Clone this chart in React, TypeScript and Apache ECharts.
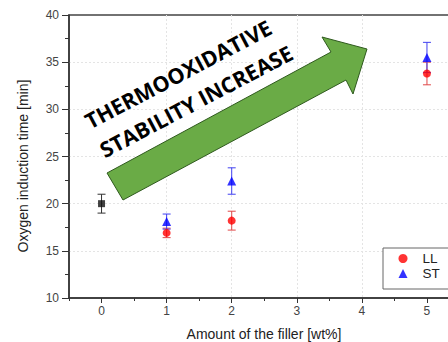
import React, { useEffect, useRef } from "react";
import * as echarts from "echarts";

// Amount of filler [wt%]
const neatX = [0];
const neatMean = [20.0];
const neatErr = [1.0];

const llX = [1, 2, 5];
const llMean = [16.9, 18.2, 33.8];
const llErr = [0.5, 1.0, 1.2];

const stX = [1, 2, 5];
const stMean = [18.1, 22.4, 35.5];
const stErr = [0.8, 1.4, 1.6];

const xTicks = [0, 1, 2, 3, 4, 5];

const FONT = "'Liberation Sans', Arial, sans-serif";

function errData(xs: number[], means: number[], errs: number[]) {
  return xs.map((x, i) => [x, means[i] - errs[i], means[i] + errs[i]]);
}
function ptData(xs: number[], means: number[]) {
  return xs.map((x, i) => [x, means[i]]);
}

function errSeries(data: number[][], color: string) {
  return {
    type: "custom",
    silent: true,
    data,
    encode: { x: 0, y: [1, 2] },
    z: 3,
    renderItem: (params: any, api: any) => {
      const x = api.value(0);
      const lo = api.value(1);
      const hi = api.value(2);
      const t = api.coord([x, hi]);
      const b = api.coord([x, lo]);
      const w = 4;
      const style = { stroke: color, lineWidth: 1 };
      return {
        type: "group",
        children: [
          { type: "line", shape: { x1: t[0], y1: t[1], x2: b[0], y2: b[1] }, style },
          { type: "line", shape: { x1: t[0] - w, y1: t[1], x2: t[0] + w, y2: t[1] }, style },
          { type: "line", shape: { x1: b[0] - w, y1: b[1], x2: b[0] + w, y2: b[1] }, style },
        ],
      };
    },
  };
}

export default function App() {
  const ref = useRef<HTMLDivElement>(null);
  useEffect(() => {
    if (!ref.current) return;
    const chart = echarts.init(ref.current, undefined, { renderer: "svg" });
    const split = {
      show: true,
      showMinLine: false,
      showMaxLine: false,
      lineStyle: { color: "#e4e4e4", type: [2, 2], width: 1 },
    };
    const option: any = {
      animation: false,
      backgroundColor: "#fff",
      grid: {
        left: 69,
        top: 15,
        bottom: 44,
        right: 10.5,
        show: true,
        borderColor: "#444",
        borderWidth: 1.5,
      },
      legend: {
        data: ["LL", "ST"],
        orient: "vertical",
        left: 383,
        top: 248,
        padding: [3, 10, 8, 15.5],
        itemWidth: 9,
        itemHeight: 9,
        itemGap: 0,
        borderColor: "#666",
        borderWidth: 1,
        backgroundColor: "#fff",
        textStyle: {
          fontFamily: FONT,
          fontSize: 13.5,
          color: "#222",
          lineHeight: 15,
          padding: [0, 0, 0, 10],
        },
      },
      xAxis: [
        {
          type: "value",
          min: -0.5,
          max: 5.5,
          axisLine: { show: true, onZero: false, lineStyle: { color: "#333", width: 1.5 } },
          axisTick: { show: true, inside: false, length: 5, customValues: xTicks, lineStyle: { color: "#333" } },
          axisLabel: {
            customValues: xTicks,
            margin: 7,
            fontFamily: FONT,
            fontSize: 12,
            color: "#444",
          },
          splitLine: split,
        },
        {
          type: "value",
          min: -0.5,
          max: 5.5,
          interval: 1,
          position: "bottom",
          axisLine: { show: false },
          axisTick: { show: true, length: 3, lineStyle: { color: "#333" } },
          axisLabel: { show: false },
          splitLine: { show: false },
        },
      ],
      yAxis: {
        type: "value",
        min: 10,
        max: 40,
        interval: 5,
        axisLine: { show: true, onZero: false, lineStyle: { color: "#333", width: 1.5 } },
        axisTick: { show: true, length: 7, lineStyle: { color: "#333" } },
        minorTick: { show: true, splitNumber: 2, length: 4, lineStyle: { color: "#333" } },
        axisLabel: { margin: 10, fontFamily: FONT, fontSize: 12, color: "#444" },
        splitLine: split,
      },
      series: [
        errSeries(errData(neatX, neatMean, neatErr), "#333"),
        errSeries(errData(llX, llMean, llErr), "#e04848"),
        errSeries(errData(stX, stMean, stErr), "#4040f0"),
        {
          name: "neat",
          type: "scatter",
          symbol: "rect",
          symbolSize: 7,
          itemStyle: { color: "#111" },
          data: ptData(neatX, neatMean),
          z: 4,
        },
        {
          name: "LL",
          type: "scatter",
          symbol: "circle",
          symbolSize: 8,
          itemStyle: { color: "#ff0000" },
          data: ptData(llX, llMean),
          z: 4,
        },
        {
          name: "ST",
          type: "scatter",
          symbol: "triangle",
          symbolSize: 9,
          itemStyle: { color: "#0000ff" },
          data: ptData(stX, stMean),
          z: 4,
        },
      ],
      graphic: [
        {
          type: "polygon",
          z: 10,
          shape: {
            points: [
              [107, 173],
              [331, 52],
              [322, 37],
              [367, 49],
              [353, 94],
              [346, 80],
              [123, 200],
            ],
          },
          style: { fill: "#6aab46", stroke: "#2f5a1e", lineWidth: 1 },
        },
        {
          type: "text",
          z: 11,
          x: 178,
          y: 74,
          rotation: 0.485,
          style: {
            text: "THERMOOXIDATIVE",
            fontFamily: "'Open Sans', sans-serif",
            fontWeight: "bold",
            fontSize: 21.5,
            fill: "#000",
            textAlign: "center",
            textVerticalAlign: "middle",
          },
        },
        {
          type: "text",
          z: 11,
          x: 196,
          y: 101,
          rotation: 0.485,
          style: {
            text: "STABILITY INCREASE",
            fontFamily: "'Open Sans', sans-serif",
            fontWeight: "bold",
            fontSize: 21.5,
            fill: "#000",
            textAlign: "center",
            textVerticalAlign: "middle",
          },
        },
        {
          type: "text",
          z: 11,
          x: 23,
          y: 166,
          rotation: Math.PI / 2,
          style: {
            text: "Oxygen induction time [min]",
            fontFamily: FONT,
            fontSize: 14,
            fill: "#222",
            textAlign: "center",
            textVerticalAlign: "middle",
          },
        },
        {
          type: "text",
          z: 11,
          x: 264,
          y: 334,
          style: {
            text: "Amount of the filler [wt%]",
            fontFamily: FONT,
            fontSize: 14,
            fill: "#222",
            textAlign: "center",
            textVerticalAlign: "middle",
          },
        },
      ],
    };
    chart.setOption(option);
    return () => chart.dispose();
  }, []);
  return (
    <div
      style={{
        position: "absolute",
        left: 0,
        top: 0,
        width: 448,
        height: 342,
        overflow: "hidden",
        background: "#fff",
      }}
    >
      <div ref={ref} style={{ width: 470, height: 342 }} />
    </div>
  );
}
